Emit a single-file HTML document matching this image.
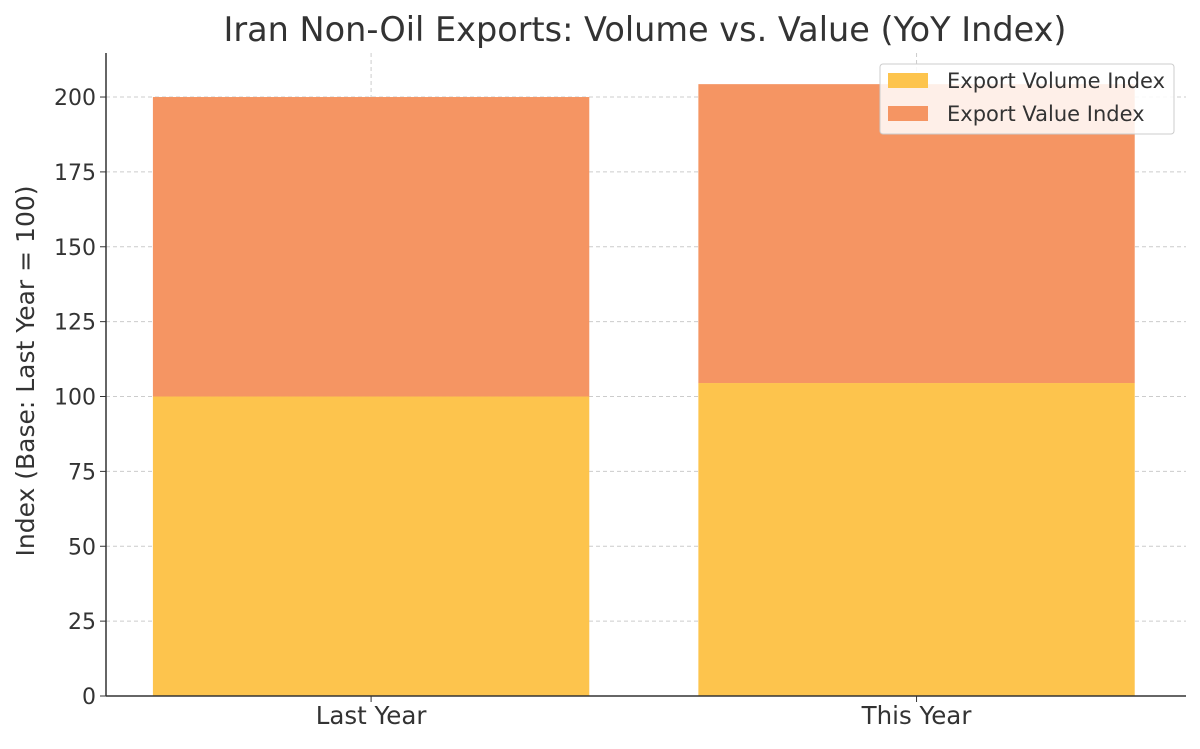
<!DOCTYPE html>
<html><head><meta charset="utf-8">
<style>
body{margin:0;background:#fff;font-family:"Liberation Sans","DejaVu Sans",sans-serif}
svg text{font-family:"DejaVu Sans","Liberation Sans",sans-serif;fill:#333}
</style></head>
<body>
<svg id="chart" width="1200" height="744">
<text x="645" y="41" font-size="33.5" text-anchor="middle">Iran Non-Oil Exports: Volume vs. Value (YoY Index)</text>
<text transform="translate(34,371) rotate(-90)" font-size="25" text-anchor="middle">Index (Base: Last Year = 100)</text>
<g id="grid"></g><g id="bars"></g><g id="axes"></g>
<g>
<rect x="880" y="64" width="294" height="70" fill="#fff" fill-opacity="0.85" stroke="#ccc" rx="3"/>
<rect x="888" y="73" width="40" height="15" fill="#fdc44d"/>
<text x="947" y="88" font-size="21">Export Volume Index</text>
<rect x="888" y="106" width="40" height="15" fill="#f59563"/>
<text x="947" y="121" font-size="21">Export Value Index</text>
</g>
</svg>
<script>
const categories=["Last Year","This Year"];
const volume=[100,104.5];
const value=[100,99.8];
const yTicks=[0,25,50,75,100,125,150,175,200];
const NS="http://www.w3.org/2000/svg";
const L=106,R=1186,T=53,B=696,yMax=214.7,xMin=-0.486,xMax=1.494;
const y=v=>B-(B-T)*v/yMax;
const x=c=>L+(R-L)*(c-xMin)/(xMax-xMin);
function mk(t,a,p){const e=document.createElementNS(NS,t);for(const k in a)e.setAttribute(k,a[k]);p.appendChild(e);return e;}
const g=document.getElementById('grid'),b=document.getElementById('bars'),ax=document.getElementById('axes');
yTicks.forEach(t=>{
 const l=mk('line',{x1:L,x2:R,y1:y(t),y2:y(t),stroke:'#ccc','stroke-dasharray':'4,3'},g);
 
 
 mk('line',{x1:L-6,x2:L,y1:y(t),y2:y(t),stroke:'#333'},ax);
 const tx=mk('text',{x:L-10,y:y(t)+8,'font-size':22,'text-anchor':'end'},ax);tx.textContent=t;
 
 
});
const bw=(R-L)/(xMax-xMin)*0.8;
categories.forEach((c,i)=>{
 const gl=mk('line',{x1:x(i),x2:x(i),y1:T,y2:B,stroke:'#ccc','stroke-dasharray':'4,3'},g);
 
 
 const r1=mk('rect',{x:x(i)-bw/2,width:bw,y:y(volume[i]),height:B-y(volume[i]),fill:'#fdc44d'},b);
 
 
 const top=volume[i]+value[i];
 const r2=mk('rect',{x:x(i)-bw/2,width:bw,y:y(top),height:y(volume[i])-y(top),fill:'#f59563'},b);
 
 
 mk('line',{x1:x(i),x2:x(i),y1:B,y2:B+6,stroke:'#333'},ax);
 const tx=mk('text',{x:x(i),y:B+28,'font-size':24.5,'text-anchor':'middle'},ax);tx.textContent=c;
 
 
});
mk('line',{x1:L,x2:L,y1:T,y2:B,stroke:'#333','stroke-width':1.5},ax);
mk('line',{x1:L,x2:R,y1:B,y2:B,stroke:'#333','stroke-width':1.5},ax);
</script>
</body></html>
